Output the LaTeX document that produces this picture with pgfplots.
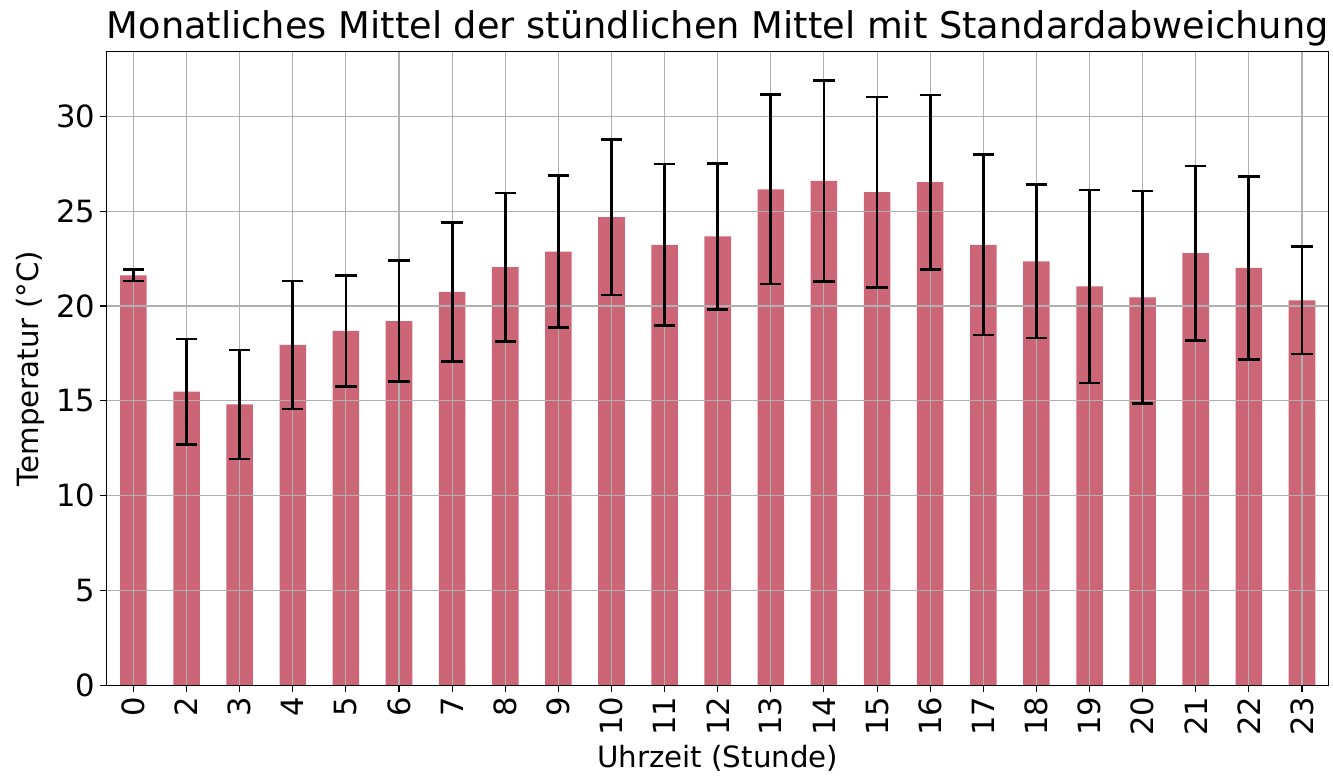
\documentclass[border=0pt]{standalone}
\usepackage{fontspec}
\setmainfont{DejaVu Sans}
\usepackage{pgfplots}
\usepackage{pgfplotstable}
\pgfplotsset{compat=1.18}
\definecolor{barc}{HTML}{CC6677}
\definecolor{gridc}{HTML}{B0B0B0}
\pgfplotstableread{
x y e
0 21.62 0.30
1 15.49 2.78
2 14.81 2.88
3 17.95 3.37
4 18.69 2.93
5 19.21 3.19
6 20.74 3.66
7 22.05 3.91
8 22.87 4.00
9 24.69 4.10
10 23.23 4.25
11 23.67 3.84
12 26.15 5.00
13 26.60 5.30
14 26.01 5.02
15 26.54 4.60
16 23.23 4.75
17 22.36 4.04
18 21.04 5.09
19 20.46 5.60
20 22.79 4.60
21 22.01 4.82
22 20.30 2.84
}\datatable
\pgfplotsset{
  layers/mylayers/.define layer set={axis background,pre main,axis grid,main,axis ticks,axis lines,axis tick labels,axis descriptions,axis foreground}{/pgfplots/layers/standard},
}
\begin{document}
\begin{tikzpicture}
\begin{axis}[
  name=ax,
  set layers=mylayers,
  scale only axis,
  width=917.25pt, height=475.5pt,
  xmin=-0.5, xmax=22.5,
  ymin=0, ymax=33.4,
  xtick={0,...,22},
  xticklabels={0,2,3,4,5,6,7,8,9,10,11,12,13,14,15,16,17,18,19,20,21,22,23},
  ytick={0,5,10,15,20,25,30},
  x tick label style={rotate=90, anchor=east, font=\fontsize{23}{27}\selectfont},
  y tick label style={font=\fontsize{23}{27}\selectfont},
  tick align=outside,
  major tick length=5.25pt,
  tick style={black, line width=0.8pt},
  xtick pos=bottom, ytick pos=left,
  grid=major,
  major grid style={gridc, line width=0.8pt},
  axis line style={black, line width=0.8pt},
  title={Monatliches Mittel der stündlichen Mittel mit Standardabweichung},
  title style={font=\fontsize{27.6}{32}\selectfont, yshift=-5pt},
  xlabel={Uhrzeit (Stunde)},
  ylabel={Temperatur (°C)},
  label style={font=\fontsize{22}{26}\selectfont},
  xlabel style={yshift=0pt},
  ylabel style={yshift=2pt},
  /pgf/number format/assume math mode=true,
]
\addplot[on layer=pre main, ybar, bar width=0.5, fill=barc, draw=none] table[x=x, y=y] {\datatable};
\addplot[draw=none, mark=none,
  error bars/.cd, y dir=both, y explicit,
  error bar style={draw=black, line width=2.1pt},
  error mark options={draw=black, line width=1.9pt, rotate=90, mark size=8pt}]
  table[x=x, y=y, y error=e] {\datatable};
\end{axis}
\path (ax.south west) ++(-80.25pt,-67.5pt) rectangle ([shift={(2.25pt,39pt)}]ax.north east);
\end{tikzpicture}
\end{document}
